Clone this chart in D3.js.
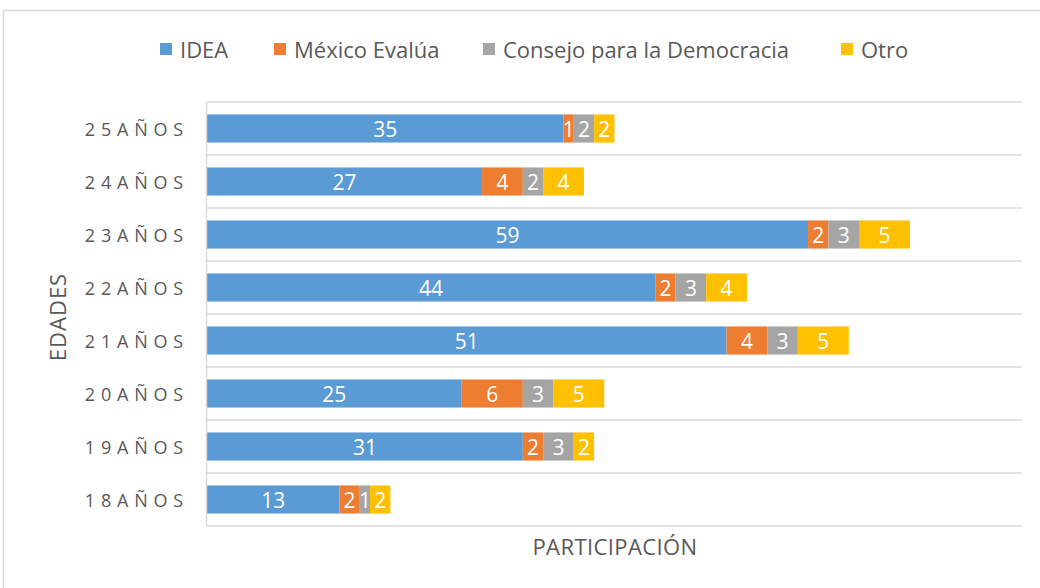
<!DOCTYPE html>
<html>
<head>
<meta charset="utf-8">
<script src="https://cdnjs.cloudflare.com/ajax/libs/d3/7.8.5/d3.min.js"></script>
<style>
  body { margin: 0; background: #fff; }
  text { font-family: "Open Sans", "Noto Sans", sans-serif; }
</style>
</head>
<body>
<div id="chart"></div>
<script>
// data, top category first as in the picture
var categories = ["25AÑOS", "24AÑOS", "23AÑOS", "22AÑOS", "21AÑOS", "20AÑOS", "19AÑOS", "18AÑOS"];
var seriesNames = ["IDEA", "México Evalúa", "Consejo para la Democracia", "Otro"];
var idea     = [35, 27, 59, 44, 51, 25, 31, 13];
var mexico   = [1, 4, 2, 2, 4, 6, 2, 2];
var consejo  = [2, 2, 3, 3, 3, 3, 3, 1];
var otro     = [2, 4, 5, 4, 5, 5, 2, 2];
var colors = ["#5b9bd5", "#ed7d31", "#a5a5a5", "#ffc000"];

var W = 1040, H = 588;
var plot = {left: 207, right: 1022, top: 102, bottom: 526};

var svg = d3.select("#chart").append("svg")
  .attr("width", W).attr("height", H);

// outer chart frame
svg.append("rect")
  .attr("x", 3.5).attr("y", 10.5)
  .attr("width", 1100).attr("height", 700)
  .attr("fill", "#fff").attr("stroke", "#d9d9d9").attr("stroke-width", 1.5);

var rows = categories.map(function(c, i){
  return {cat: c, IDEA: idea[i], "México Evalúa": mexico[i],
          "Consejo para la Democracia": consejo[i], Otro: otro[i]};
});

var stack = d3.stack().keys(seriesNames)(rows);

var x = d3.scaleLinear().domain([0, 80]).range([plot.left, plot.right]);
var y = d3.scaleBand().domain(categories).range([plot.top, plot.bottom]).paddingInner(0.47).paddingOuter(0.235);
var yGrid = d3.scaleBand().domain(categories).range([plot.top, plot.bottom]);

// horizontal gridlines at category borders
var gridY = categories.map(function(c){ return yGrid(c); }).concat([plot.bottom]);
svg.append("g").selectAll("line").data(gridY).enter().append("line")
  .attr("x1", plot.left).attr("x2", plot.right)
  .attr("y1", function(d){ return d; }).attr("y2", function(d){ return d; })
  .attr("stroke", "#d9d9d9").attr("stroke-width", 1.5);

// bars
var layers = svg.append("g").selectAll("g").data(stack).enter().append("g")
  .attr("fill", function(d, i){ return colors[i]; });

layers.selectAll("rect").data(function(d){ return d; }).enter().append("rect")
  .attr("x", function(d){ return x(d[0]); })
  .attr("width", function(d){ return x(d[1]) - x(d[0]); })
  .attr("y", function(d){ return y(d.data.cat); })
  .attr("height", y.bandwidth());

// data labels
layers.selectAll("text").data(function(d){ return d; }).enter().append("text")
  .attr("x", function(d){ return (x(d[0]) + x(d[1])) / 2; })
  .attr("y", function(d){ return y(d.data.cat) + y.bandwidth() / 2 + 8; })
  .attr("text-anchor", "middle")
  .attr("fill", "#fff")
  .style("font-size", "21px")
  .text(function(d){ return d[1] - d[0]; });

// left axis line
svg.append("line")
  .attr("x1", plot.left - 0.5).attr("x2", plot.left - 0.5)
  .attr("y1", plot.top).attr("y2", plot.bottom)
  .attr("stroke", "#d9d9d9").attr("stroke-width", 1.5);

// category labels
var yAxis = d3.axisLeft(yGrid).tickSize(0).tickPadding(18);
var gy = svg.append("g").attr("transform", "translate(" + plot.left + ",0)").call(yAxis);
gy.select(".domain").remove();
gy.selectAll("text")
  .attr("fill", "#595959")
  .style("font-size", "18px")
  .style("letter-spacing", "5.8px")
  .attr("dy", "0.42em");

// axis titles
svg.append("text")
  .attr("transform", "translate(66,317) rotate(-90)")
  .attr("text-anchor", "middle")
  .attr("fill", "#595959")
  .style("font-size", "22px")
  .style("letter-spacing", "1px")
  .text("EDADES");

svg.append("text")
  .attr("x", 615).attr("y", 555)
  .attr("text-anchor", "middle")
  .attr("fill", "#595959")
  .style("font-size", "22px")
  .style("letter-spacing", "0.4px")
  .text("PARTICIPACIÓN");

// legend
var legendX = [160, 274, 483, 841];
var legend = svg.append("g").selectAll("g").data(seriesNames).enter().append("g")
  .attr("transform", function(d, i){ return "translate(" + legendX[i] + ",43)"; });
legend.append("rect")
  .attr("width", 12).attr("height", 12)
  .attr("fill", function(d, i){ return colors[i]; });
legend.append("text")
  .attr("x", 20).attr("y", 14.5)
  .attr("fill", "#595959")
  .style("font-size", "22px")
  .text(function(d){ return d; });
</script>
</body>
</html>
